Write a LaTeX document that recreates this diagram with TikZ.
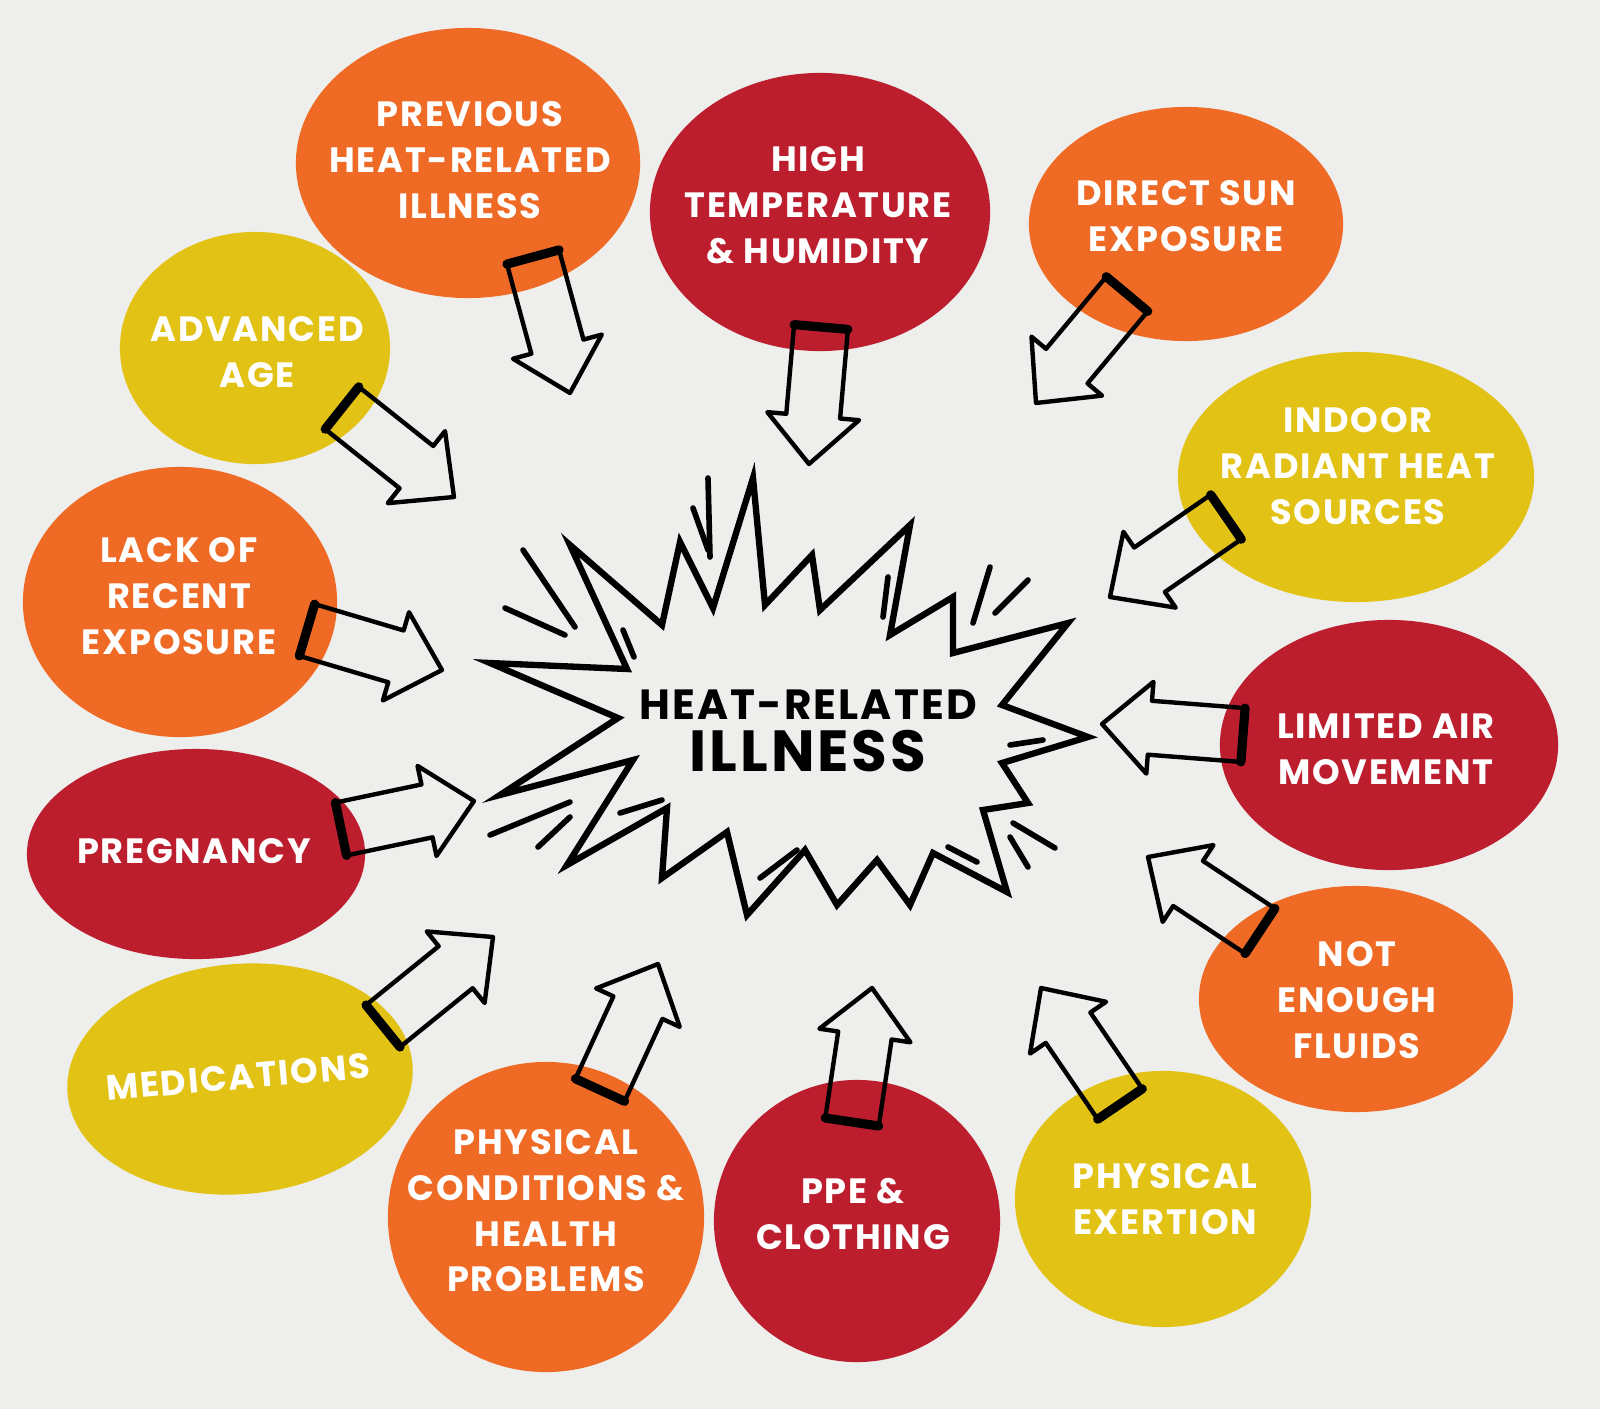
\documentclass[tikz,border=0pt]{standalone}
\usepackage{fontspec}
\setmainfont{Poppins}[LetterSpace=5]
\usetikzlibrary{shapes.geometric,calc}

\definecolor{paper}{HTML}{EEEEEC}
\definecolor{hotorange}{HTML}{EF6A25}
\definecolor{hotred}{HTML}{BD1E2E}
\definecolor{hotyellow}{HTML}{E2C215}

% hollow block arrow from tail #1 to tip #2
\newcommand{\hollowarrow}[2]{%
  \coordinate (neck) at ($(#2)!0.48cm!(#1)$);
  \draw[arrowline] ($(#1)!0.27cm!90:(#2)$) -- ($(neck)!0.27cm!90:(#2)$) -- ($(neck)!0.46cm!90:(#2)$) -- (#2)
    -- ($(neck)!0.46cm!-90:(#2)$) -- ($(neck)!0.27cm!-90:(#2)$) -- ($(#1)!0.27cm!-90:(#2)$) -- cycle;
  \draw[tailbar] ($(#1)!0.27cm!90:(#2)$) -- ($(#1)!0.27cm!-90:(#2)$);
}

\begin{document}
\begin{tikzpicture}[x=0.01cm, y=-0.01cm,
  blob/.style = {ellipse, inner sep=0pt},
  cause/.style = {text=white, align=center, font=\bfseries\fontsize{10}{13}\selectfont},
  arrowline/.style = {line width=1.25pt, line join=round},
  tailbar/.style = {line width=2.6pt, line cap=round},
  burst/.style = {line width=1.8pt, line join=miter},
  ray/.style = {line width=1.6pt, line cap=round}]
	\fill[paper] (0,0) rectangle (1600,1409);
	\useasboundingbox (0,0) rectangle (1600,1409);

	% causes
	\node[blob, fill=hotorange, minimum width=3.44cm, minimum height=2.70cm] (prev) at (468,163) {};
	\node[blob, fill=hotred, minimum width=3.40cm, minimum height=2.78cm] (temp) at (820,212) {};
	\node[blob, fill=hotorange, minimum width=3.14cm, minimum height=2.34cm] (sun) at (1186,224) {};
	\node[blob, fill=hotyellow, minimum width=2.70cm, minimum height=2.32cm] (age) at (255,348) {};
	\node[blob, fill=hotyellow, minimum width=3.56cm, minimum height=2.50cm] (indoor) at (1356,477) {};
	\node[blob, fill=hotorange, minimum width=3.14cm, minimum height=2.70cm] (lack) at (180,602) {};
	\node[blob, fill=hotred, minimum width=3.38cm, minimum height=2.50cm] (air) at (1389,745) {};
	\node[blob, fill=hotred, minimum width=3.38cm, minimum height=2.10cm] (preg) at (196,854) {};
	\node[blob, fill=hotorange, minimum width=3.14cm, minimum height=2.26cm] (fluid) at (1356,999) {};
	\node[blob, fill=hotyellow, minimum width=3.46cm, minimum height=2.30cm, rotate=5] (meds) at (240,1079) {};
	\node[blob, fill=hotorange, minimum width=3.16cm, minimum height=3.10cm] (cond) at (546,1217) {};
	\node[blob, fill=hotred, minimum width=2.86cm, minimum height=2.82cm] (ppe) at (857,1221) {};
	\node[blob, fill=hotyellow, minimum width=2.96cm, minimum height=2.56cm] (exert) at (1163,1199) {};

	\node[cause] (prevtxt) at (470,160) {PREVIOUS\\HEAT-RELATED\\ILLNESS};
	\node[cause] (temptxt) at (818,205) {HIGH\\TEMPERATURE\\\& HUMIDITY};
	\node[cause] (suntxt) at (1186,216) {DIRECT SUN\\EXPOSURE};
	\node[cause] (agetxt) at (257,352) {ADVANCED\\AGE};
	\node[cause] (indoortxt) at (1358,466) {INDOOR\\RADIANT HEAT\\SOURCES};
	\node[cause] (lacktxt) at (179,596) {LACK OF\\RECENT\\EXPOSURE};
	\node[cause] (airtxt) at (1386,749) {LIMITED AIR\\MOVEMENT};
	\node[cause] (pregtxt) at (194,851) {PREGNANCY};
	\node[cause] (fluidtxt) at (1357,1000) {NOT\\ENOUGH\\FLUIDS};
	\node[cause, rotate=5] (medstxt) at (238,1077) {MEDICATIONS};
	\node[cause] (condtxt) at (546,1211) {PHYSICAL\\CONDITIONS \&\\HEALTH\\PROBLEMS};
	\node[cause] (ppetxt) at (853,1214) {PPE \&\\CLOTHING};
	\node[cause] (exerttxt) at (1165,1199) {PHYSICAL\\EXERTION};

	% burst
	\draw[burst] (490,663) -- (627,669) -- (570,545) -- (662,625) -- (680,542) -- (713,608) -- (753,478) -- (765,605)
		-- (812,555) -- (820,610) -- (910,525) -- (890,635) -- (953,597) -- (953,653) -- (1068,623) -- (1002,705)
		-- (1088,737) -- (1002,763) -- (1028,803) -- (983,810) -- (1007,892) -- (933,853) -- (910,905) -- (877,860)
		-- (837,905) -- (805,850) -- (747,915) -- (727,832) -- (662,878) -- (667,808) -- (567,865) -- (633,760)
		-- (500,795) -- (618,718) -- cycle;
	\node[align=center, font=\bfseries] (hub) at (808,731)
		{{\fontsize{12}{14}\selectfont HEAT-RELATED}\\[3pt]{\fontsize{16.5}{18}\selectfont ILLNESS}};
	\draw[ray] (523,550) -- (575,627);
	\draw[ray] (505,608) -- (565,635);
	\draw[ray] (708,478) -- (710,557);
	\draw[ray] (693,508) -- (708,550);
	\draw[ray] (623,630) -- (634,657);
	\draw[ray] (490,835) -- (570,802);
	\draw[ray] (538,847) -- (570,817);
	\draw[ray] (620,813) -- (662,800);
	\draw[ray] (760,878) -- (797,850);
	\draw[ray] (990,567) -- (973,623);
	\draw[ray] (1028,580) -- (995,613);
	\draw[ray] (888,577) -- (883,617);
	\draw[ray] (1010,745) -- (1043,740);
	\draw[ray] (1013,823) -- (1055,848);
	\draw[ray] (1010,837) -- (1028,867);
	\draw[ray] (948,847) -- (977,862);

	% arrows
	\coordinate (t1) at (533,257);   \coordinate (h1) at (570,393);
	\coordinate (t2) at (821,327);   \coordinate (h2) at (809,464);
	\coordinate (t3) at (1127,294);  \coordinate (h3) at (1036,403);
	\coordinate (t4) at (342,408);   \coordinate (h4) at (454,497);
	\coordinate (t5) at (1226,517);  \coordinate (h5) at (1110,597);
	\coordinate (t6) at (307,630);   \coordinate (h6) at (442,670);
	\coordinate (t7) at (1243,735);  \coordinate (h7) at (1102,724);
	\coordinate (t8) at (341,829);   \coordinate (h8) at (474,801);
	\coordinate (t9) at (1260,931);  \coordinate (h9) at (1148,857);
	\coordinate (t10) at (383,1026); \coordinate (h10) at (493,937);
	\coordinate (t11) at (600,1090); \coordinate (h11) at (658,964);
	\coordinate (t12) at (852,1122); \coordinate (h12) at (872,988);
	\coordinate (t13) at (1120,1104); \coordinate (h13) at (1041,988);
	\hollowarrow{t1}{h1}
	\hollowarrow{t2}{h2}
	\hollowarrow{t3}{h3}
	\hollowarrow{t4}{h4}
	\hollowarrow{t5}{h5}
	\hollowarrow{t6}{h6}
	\hollowarrow{t7}{h7}
	\hollowarrow{t8}{h8}
	\hollowarrow{t9}{h9}
	\hollowarrow{t10}{h10}
	\hollowarrow{t11}{h11}
	\hollowarrow{t12}{h12}
	\hollowarrow{t13}{h13}
\end{tikzpicture}
\end{document}
